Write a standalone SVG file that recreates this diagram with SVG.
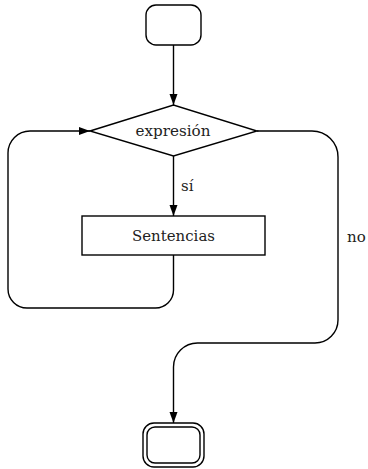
<svg xmlns="http://www.w3.org/2000/svg" width="368" height="469" viewBox="0 0 368 469">
<style>
.s{fill:#fff;stroke:#000;stroke-width:1.4}
.c{fill:none;stroke:#000;stroke-width:1.4}
.t{font-family:'DejaVu Serif','Liberation Serif',serif;font-size:15px;fill:#222}
</style>
<defs>
<marker id="a" markerUnits="userSpaceOnUse" markerWidth="11" markerHeight="9" refX="11" refY="4" orient="auto">
<path d="M0,0 L11,4 L0,8 z" fill="#000"/>
</marker>
</defs>
<rect width="368" height="469" fill="#fff"/>
<g id="connectors">
<path class="c" d="M173.5,45 V105" marker-end="url(#a)"/>
<path class="c" d="M173.5,156 V216" marker-end="url(#a)"/>
<path class="c" d="M173.5,255 V290 A18,18 0 0 1 155.5,308 H27 A19,19 0 0 1 8,289 V153 A22,22 0 0 1 30,131 H90" marker-end="url(#a)"/>
<path class="c" d="M257,131 H312 A26,26 0 0 1 338,157 V320 A23,23 0 0 1 315,343 H197.5 A24,24 0 0 0 173.5,367 V423" marker-end="url(#a)"/>
<text class="t" x="181" y="191">sí</text>
<text class="t" x="347" y="242">no</text>
</g>
<g id="start">
<rect class="s" x="146" y="5" width="55" height="40" rx="10"/>
</g>
<g id="decision">
<polygon class="s" points="90,131 173.5,105 257,131 173.5,156"/>
<text class="t" x="173" y="136" text-anchor="middle" textLength="75" lengthAdjust="spacingAndGlyphs">expresión</text>
</g>
<g id="sentencias">
<rect class="s" x="82" y="216" width="183" height="39"/>
<text class="t" x="173.5" y="241" text-anchor="middle" textLength="83" lengthAdjust="spacingAndGlyphs">Sentencias</text>
</g>
<g id="end">
<rect class="s" x="143" y="423" width="61" height="44" rx="11"/>
<rect class="s" x="147" y="427" width="53" height="36" rx="8"/>
</g>
</svg>
